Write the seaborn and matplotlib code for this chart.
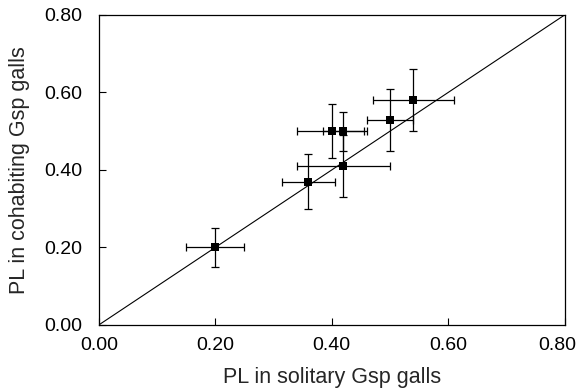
import matplotlib
matplotlib.use("Agg")
import matplotlib.pyplot as plt
import matplotlib.transforms as mtransforms
import seaborn as sns
import pandas as pd

# Data
pl_solitary = [0.20, 0.36, 0.42, 0.40, 0.42, 0.50, 0.54]
pl_cohabiting = [0.20, 0.37, 0.41, 0.50, 0.50, 0.53, 0.58]
err_solitary = [0.05, 0.045, 0.08, 0.06, 0.035, 0.04, 0.07]
err_cohabiting = [0.05, 0.07, 0.08, 0.07, 0.05, 0.08, 0.08]
tick_values = [0.0, 0.2, 0.4, 0.6, 0.8]
tick_labels = ["0.00", "0.20", "0.40", "0.60", "0.80"]

df = pd.DataFrame({"x": pl_solitary, "y": pl_cohabiting,
                   "xerr": err_solitary, "yerr": err_cohabiting})

sns.set_style("ticks")
plt.rcParams["font.family"] = ["Liberation Sans", "DejaVu Sans"]

fig = plt.figure(figsize=(5.81, 3.92), dpi=100)
ax = fig.add_axes([0.170, 0.171, 0.802, 0.791])

ax.axline((0, 0), slope=1, color="black", lw=0.8, zorder=1)
ax.errorbar(df["x"], df["y"], xerr=df["xerr"], yerr=df["yerr"], fmt="none",
            ecolor="black", elinewidth=0.9, capsize=3, capthick=0.9, zorder=2)
sns.scatterplot(data=df, x="x", y="y", marker="s", color="black", s=36,
                edgecolor="black", linewidth=0, ax=ax, zorder=3)

ax.set_xlim(0, 0.8)
ax.set_ylim(0, 0.8)
ax.set_xticks(tick_values)
ax.set_xticklabels(tick_labels)
ax.set_yticks(tick_values)
ax.set_yticklabels(tick_labels)
ax.tick_params(direction="in", length=5, width=0.8, labelsize=14, colors="black")
ax.tick_params(axis="y", pad=12)
ax.tick_params(axis="x", pad=9)
for s in ax.spines.values():
    s.set_visible(True)
    s.set_linewidth(0.9)
    s.set_color("black")
ax.set_xlabel("PL in solitary Gsp galls", fontsize=15.5, labelpad=9)
ax.set_ylabel("PL in cohabiting Gsp galls", fontsize=15.5, labelpad=10)

# nudge the last x tick label left so it stays inside the figure, as in the reference
last = ax.get_xticklabels()[-1]
last.set_transform(last.get_transform() +
                   mtransforms.ScaledTranslation(-7 / 100, 0, fig.dpi_scale_trans))

fig.savefig("out.png", dpi=100, facecolor="white")
